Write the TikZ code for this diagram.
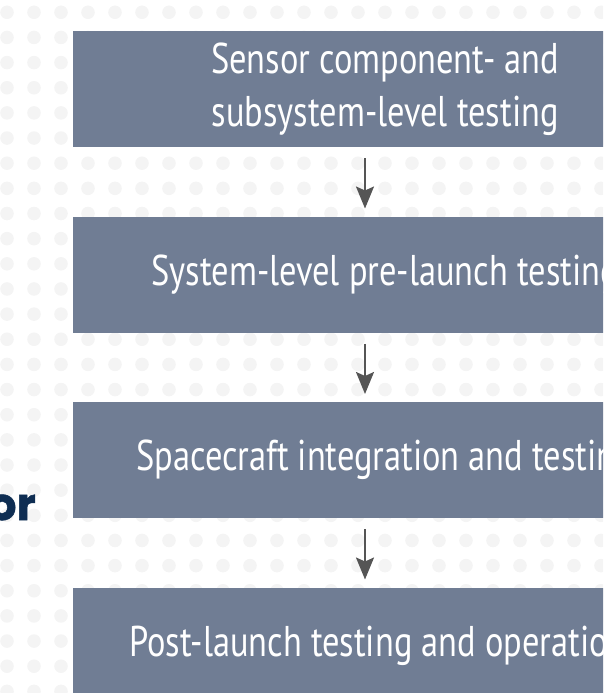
\documentclass[tikz,border=0pt]{standalone}
\usepackage{fontspec}
\setmainfont{PT Sans}[FakeStretch=0.8]
\newfontfamily\headfont{Poppins}[BoldFeatures={FakeBold=1.2}]
\usetikzlibrary{arrows.meta}

\definecolor{slate}{RGB}{112,125,148}
\definecolor{arrowgray}{RGB}{85,85,85}
\definecolor{dotgray}{RGB}{244,244,244}
\definecolor{navy}{RGB}{14,45,82}

\tikzset{
  stagebox/.style={fill=slate, text=white, minimum width=624pt, minimum height=116pt,
    inner sep=0pt, align=center, anchor=north west,
    font=\fontsize{43}{53}\selectfont},
  flowarrow/.style={draw=arrowgray, line width=2pt, shorten <=11pt, shorten >=8pt,
    -{Stealth[length=22pt,width=18pt,inset=4pt]}},
  dot/.style={fill=dotgray}
}

\begin{document}
\begin{tikzpicture}[x=1pt,y=-1pt]
\useasboundingbox (0,0) rectangle (603,693);
\clip (0,0) rectangle (603,693);

% dotted background grid
\foreach \i in {0,...,22}
  \foreach \j in {0,...,27}
    \fill[dot] (7+27*\i, 12.3+25.15*\j) circle[radius=6.8pt];

% partly hidden heading word on the left
\node[font=\headfont\bfseries\fontsize{45}{45}\selectfont, text=navy,
      anchor=base east, inner sep=0pt] (word) at (36,520) {or};

% process stages
\node[stagebox] (s1) at (73,31)    {Sensor component- and\\subsystem-level testing};
\node[stagebox] (s2) at (73,216.5) {System-level pre-launch testing};
\node[stagebox] (s3) at (73,402)   {Spacecraft integration and testing};
\node[stagebox] (s4) at (73,587.5) {Post-launch testing and operations};

% connectors
\coordinate (ax) at (365,0);
\draw[flowarrow] (s1.south -| ax) -- (s2.north -| ax);
\draw[flowarrow] (s2.south -| ax) -- (s3.north -| ax);
\draw[flowarrow] (s3.south -| ax) -- (s4.north -| ax);
\end{tikzpicture}
\end{document}
